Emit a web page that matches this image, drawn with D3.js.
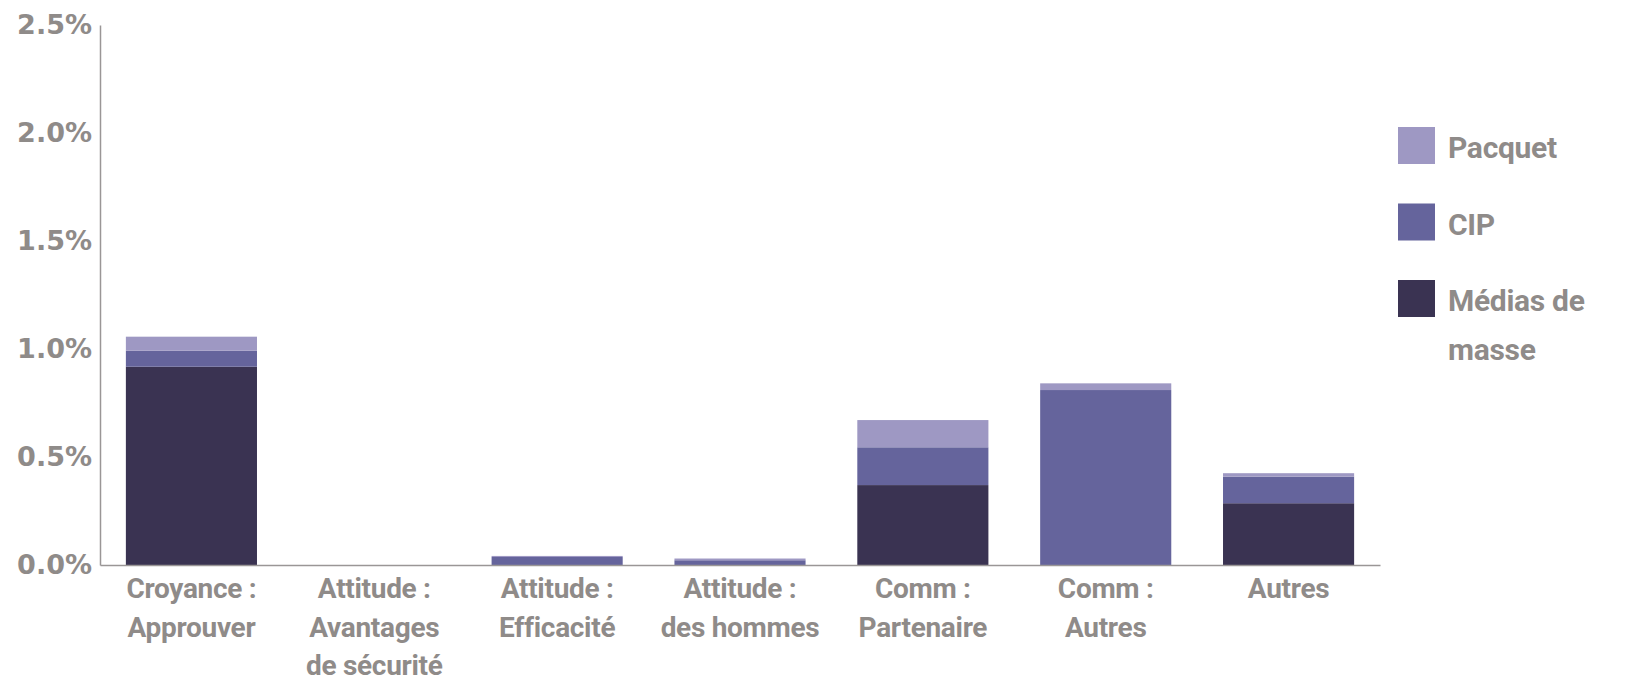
<!DOCTYPE html>
<html>
<head>
<meta charset="utf-8">
<script src="https://cdnjs.cloudflare.com/ajax/libs/d3/7.8.5/d3.min.js"></script>
<style>
  body { margin: 0; background: #fff; }
  svg { display: block; }
</style>
</head>
<body>
<svg width="1634" height="681"></svg>
<script>
// categories, one label line per array entry
var categories = [
    ["Croyance :", "Approuver"],
    ["Attitude :", "Avantages", "de sécurité"],
    ["Attitude :", "Efficacité"],
    ["Attitude :", "des hommes"],
    ["Comm :", "Partenaire"],
    ["Comm :", "Autres"],
    ["Autres"]
];

// series values in %, stacked bottom to top
var medias  = [0.918, 0, 0,     0,     0.370, 0,     0.286];
var cip     = [0.074, 0, 0.037, 0.022, 0.175, 0.810, 0.123];
var pacquet = [0.065, 0, 0.005, 0.008, 0.126, 0.031, 0.016];

var seriesNames = ["Médias de masse", "CIP", "Pacquet"];
var legendLabels = [["Pacquet"], ["CIP"], ["Médias de", "masse"]];
var yTicks = [0, 0.5, 1.0, 1.5, 2.0, 2.5];

var colors = {"Médias de masse": "#3a3352", "CIP": "#65649c", "Pacquet": "#9e98c3"};
var textColor = "#8f8b89";
var axisColor = "#9a9696";

var svg = d3.select("svg");

var x = d3.scaleBand()
    .domain(d3.range(categories.length))
    .range([100, 1380])
    .paddingInner(0.283)
    .paddingOuter(0.1415);

var y = d3.scaleLinear()
    .domain([0, 2.5])
    .range([565, 25]);

//------------------------------------------------------------------
// stack the data
var rows = categories.map(function(c, i) {
    return {"Médias de masse": medias[i], "CIP": cip[i], "Pacquet": pacquet[i], idx: i};
});
var stacked = d3.stack().keys(seriesNames)(rows);

svg.append("g")
    .selectAll("g")
    .data(stacked)
    .enter().append("g")
    .attr("fill", function(d) { return colors[d.key]; })
    .selectAll("rect")
    .data(function(d) { return d; })
    .enter().append("rect")
    .attr("x", function(d) { return x(d.data.idx); })
    .attr("y", function(d) { return y(d[1]); })
    .attr("width", x.bandwidth())
    .attr("height", function(d) { return y(d[0]) - y(d[1]); });

//------------------------------------------------------------------
// y axis
var yAxis = svg.append("g")
    .attr("transform", "translate(100,0)")
    .call(d3.axisLeft(y).tickValues(yTicks).tickSize(0).tickPadding(8)
        .tickFormat(function(d) { return d3.format(".1f")(d) + "%"; }));
yAxis.select(".domain").attr("stroke", axisColor).attr("stroke-width", 1.5);
yAxis.selectAll("text")
    .attr("fill", textColor)
    .style("font-family", "'DejaVu Sans', sans-serif")
    .style("font-weight", "bold")
    .style("font-size", "27px");

// x axis
var xAxis = svg.append("g")
    .attr("transform", "translate(0,565)")
    .call(d3.axisBottom(x).tickSize(0).tickFormat(""));
xAxis.select(".domain").attr("stroke", axisColor).attr("stroke-width", 1.5);

var labels = svg.append("g")
    .selectAll("text")
    .data(categories)
    .enter().append("text")
    .attr("text-anchor", "middle")
    .attr("fill", textColor)
    .style("font-family", "Roboto, sans-serif")
    .style("font-weight", "bold")
    .style("font-size", "28px")
    .style("letter-spacing", "-0.3px")
    .attr("transform", function(d, i) {
        return "translate(" + (x(i) + x.bandwidth() / 2) + ",598)";
    });
labels.selectAll("tspan")
    .data(function(d) { return d; })
    .enter().append("tspan")
    .attr("x", 0)
    .attr("y", function(d, i) { return i * 38.5; })
    .text(function(d) { return d; });

//------------------------------------------------------------------
// legend
var legendKeys = ["Pacquet", "CIP", "Médias de masse"];
var legend = svg.append("g")
    .selectAll("g")
    .data(legendKeys)
    .enter().append("g")
    .attr("transform", function(d, i) {
        return "translate(1398," + (127 + i * 76.5) + ")";
    });
legend.append("rect")
    .attr("width", 37)
    .attr("height", 37)
    .attr("fill", function(d) { return colors[d]; });
legend.append("text")
    .attr("fill", textColor)
    .style("font-family", "Roboto, sans-serif")
    .style("font-weight", "bold")
    .style("font-size", "30px")
    .style("letter-spacing", "-0.3px")
    .selectAll("tspan")
    .data(function(d, i) { return legendLabels[i]; })
    .enter().append("tspan")
    .attr("x", 50)
    .attr("y", function(d, i) { return 31 + i * 49; })
    .text(function(d) { return d; });
</script>
</body>
</html>
